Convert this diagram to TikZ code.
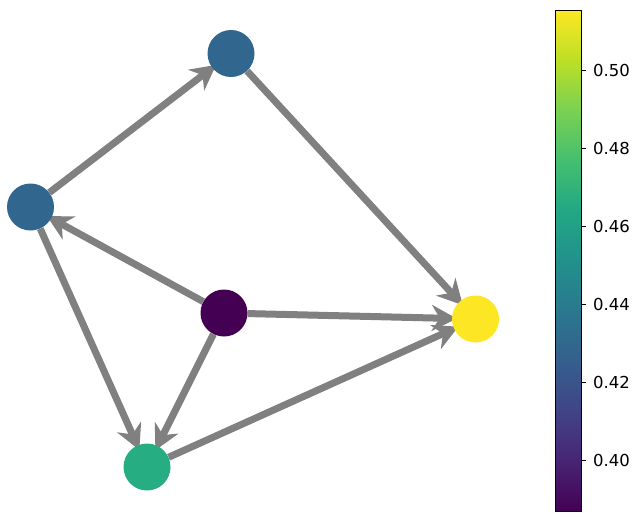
\documentclass[tikz,border=0pt]{standalone}
\usepackage{fontspec}
\setmainfont{DejaVu Sans}
\usetikzlibrary{arrows.meta,backgrounds}
\definecolor{va}{HTML}{440154}
\definecolor{vb}{HTML}{482475}
\definecolor{vc}{HTML}{414487}
\definecolor{vd}{HTML}{355F8D}
\definecolor{ve}{HTML}{2A788E}
\definecolor{vf}{HTML}{21918C}
\definecolor{vg}{HTML}{22A884}
\definecolor{vh}{HTML}{44BF70}
\definecolor{vi}{HTML}{7AD151}
\definecolor{vj}{HTML}{BDDF26}
\definecolor{vk}{HTML}{FDE725}
\definecolor{nblue}{HTML}{31678E}
\definecolor{ngreen}{HTML}{26AD81}
\definecolor{edgegray}{HTML}{808080}
\pgfdeclareverticalshading{viridisbar}{100bp}{color(0bp)=(va); color(25bp)=(va); color(30bp)=(vb); color(35bp)=(vc); color(40bp)=(vd); color(45bp)=(ve); color(50bp)=(vf); color(55bp)=(vg); color(60bp)=(vh); color(65bp)=(vi); color(70bp)=(vj); color(75bp)=(vk); color(100bp)=(vk)}
\tikzset{
  gnode/.style={circle, minimum size=47pt, inner sep=0pt, draw=none},
  gedge/.style={draw=edgegray, line width=7pt, -{Stealth[length=25pt, width=26pt, inset=8pt]}, shorten >=-5pt},
  ticklbl/.style={anchor=west, font=\fontsize{16.5}{20}\selectfont, inner sep=0pt},
  tickmark/.style={line width=1pt, black}
}
\begin{document}
\begin{tikzpicture}[x=1pt, y=-1pt]
\useasboundingbox (0,0) rectangle (639,512);
% nodes
\node[gnode, fill=nblue] (a) at (231,53.5) {};
\node[gnode, fill=nblue] (b) at (30.5,207) {};
\node[gnode, fill=va] (c) at (224,313) {};
\node[gnode, fill=vk] (d) at (475.5,319) {};
\node[gnode, fill=ngreen] (e) at (147,467) {};
% edges
\begin{pgfonlayer}{background}
\draw[gedge] (b) -- (a);
\draw[gedge] (a) -- (d);
\draw[gedge] (c) -- (b);
\draw[gedge] (c) -- (d);
\draw[gedge] (c) -- (e);
\draw[gedge] (b) -- (e);
\draw[gedge] (e) -- (d);
\end{pgfonlayer}
% colorbar
\shade[shading=viridisbar] (555,511) rectangle (581,10);
\draw[line width=1pt] (555,511) rectangle (581,10);
\foreach \y/\t in {460/0.40, 382/0.42, 304/0.44, 226/0.46, 148/0.48, 70/0.50} {
  \draw[tickmark] (581,\y) -- (586,\y);
  \node[ticklbl] at (593,\y) {\t};
}
\end{tikzpicture}
\end{document}
